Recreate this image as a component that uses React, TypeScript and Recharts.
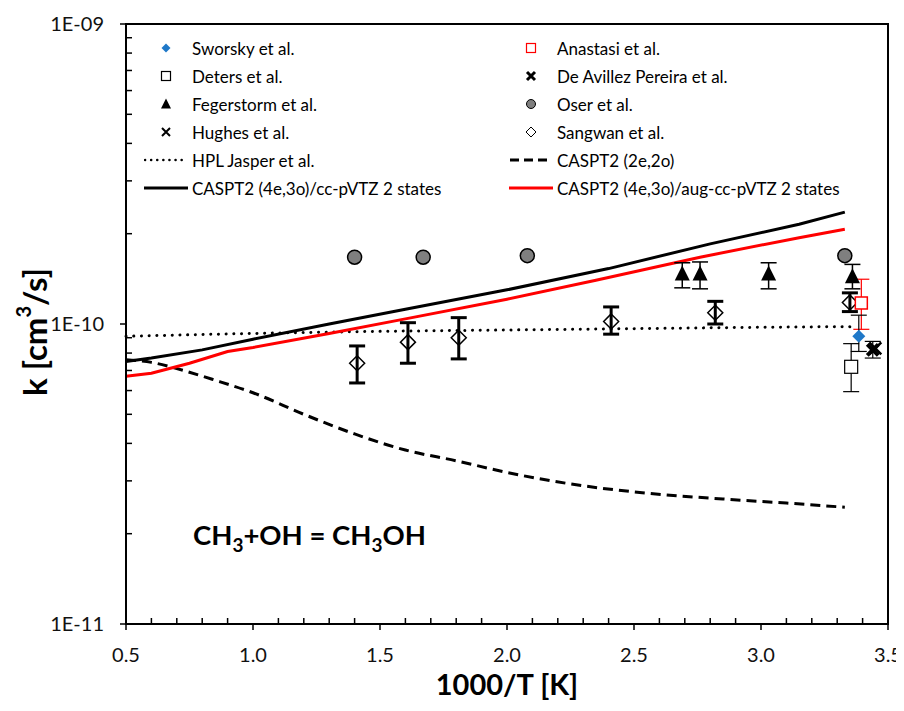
import React from "react";
import {
  ComposedChart,
  XAxis,
  YAxis,
  Scatter,
  Line,
  ErrorBar,
  ReferenceArea,
  Label,
} from "recharts";

const FONT = "Lato, 'Open Sans', sans-serif";

// tick labels
const xTicks = [0.5, 1.0, 1.5, 2.0, 2.5, 3.0, 3.5];
const xMinorTicks = [
  0.6, 0.7, 0.8, 0.9, 1.1, 1.2, 1.3, 1.4, 1.6, 1.7, 1.8, 1.9, 2.1, 2.2, 2.3, 2.4,
  2.6, 2.7, 2.8, 2.9, 3.1, 3.2, 3.3, 3.4,
];
const yTicks = [1e-11, 1e-10, 1e-9];
const yMinorTicks = [
  2e-11, 3e-11, 4e-11, 5e-11, 6e-11, 7e-11, 8e-11, 9e-11,
  2e-10, 3e-10, 4e-10, 5e-10, 6e-10, 7e-10, 8e-10, 9e-10,
];

// experiments (x = 1000/T, k in cm3/s, lo/hi = error bar ends)
const sworskyX = [3.385];
const sworskyK = [9.1e-11];
const sworskyLo = [8.1e-11];
const sworskyHi = [1.07e-10];

const anastasiX = [3.395];
const anastasiK = [1.175e-10];
const anastasiLo = [9.6e-11];
const anastasiHi = [1.41e-10];

const detersX = [3.355];
const detersK = [7.2e-11];
const detersLo = [5.95e-11];
const detersHi = [8.6e-11];

const deAvillezX = [3.44];
const deAvillezK = [8.2e-11];
const deAvillezLo = [7.7e-11];
const deAvillezHi = [8.75e-11];

const fegerstromX = [2.69, 2.76, 3.03, 3.36];
const fegerstromK = [1.47e-10, 1.47e-10, 1.47e-10, 1.44e-10];
const fegerstromLo = [1.32e-10, 1.31e-10, 1.31e-10, 1.31e-10];
const fegerstromHi = [1.6e-10, 1.61e-10, 1.6e-10, 1.58e-10];

const oserX = [1.4, 1.67, 2.08, 3.33];
const oserK = [1.67e-10, 1.67e-10, 1.69e-10, 1.69e-10];

const hughesX = [3.45];
const hughesK = [8.3e-11];

const sangwanX = [1.41, 1.61, 1.81, 2.41, 2.82, 3.35];
const sangwanK = [7.4e-11, 8.7e-11, 9.0e-11, 1.02e-10, 1.09e-10, 1.18e-10];
const sangwanLo = [6.36e-11, 7.4e-11, 7.65e-11, 9.25e-11, 1.0e-10, 1.1e-10];
const sangwanHi = [8.45e-11, 1.01e-10, 1.05e-10, 1.14e-10, 1.19e-10, 1.27e-10];

// theory
const hplX = [0.5, 1.0, 1.5, 2.0, 2.5, 3.0, 3.35];
const hplK = [9.1e-11, 9.3e-11, 9.45e-11, 9.55e-11, 9.65e-11, 9.75e-11, 9.8e-11];

const cas2X = [0.5, 0.6, 0.7, 0.85, 1.0, 1.2, 1.4, 1.6, 1.8, 2.0, 2.25, 2.55, 2.85, 3.1, 3.33];
const cas2K = [
  7.6e-11, 7.45e-11, 7.1e-11, 6.5e-11, 5.9e-11, 5.0e-11, 4.3e-11, 3.8e-11,
  3.5e-11, 3.2e-11, 2.93e-11, 2.73e-11, 2.61e-11, 2.53e-11, 2.45e-11,
];

const ccX = [0.5, 0.6, 0.8, 1.0, 1.3, 1.6, 2.0, 2.4, 2.8, 3.15, 3.33];
const ccK = [7.5e-11, 7.7e-11, 8.2e-11, 8.9e-11, 1.0e-10, 1.12e-10, 1.3e-10, 1.53e-10, 1.85e-10, 2.15e-10, 2.36e-10];

const augX = [0.5, 0.6, 0.75, 0.9, 1.0, 1.3, 1.6, 2.0, 2.35, 2.76, 3.15, 3.33];
const augK = [6.7e-11, 6.85e-11, 7.4e-11, 8.1e-11, 8.35e-11, 9.3e-11, 1.04e-10, 1.21e-10, 1.4e-10, 1.67e-10, 1.94e-10, 2.07e-10];

const pts = (xs: number[], ks: number[], lo?: number[], hi?: number[]) =>
  xs.map((x, i) => ({
    x,
    k: ks[i],
    err: lo && hi ? [ks[i] - lo[i], hi[i] - ks[i]] : undefined,
  }));

const line = (xs: number[], ks: number[]) => xs.map((x, i) => ({ x, k: ks[i] }));

// tick marks sit on the bottom of the domain
const onAxis = (xs: number[]) => xs.map((x) => ({ x, k: 1e-11 }));

const diamond = (cx: number, cy: number, r: number) =>
  `M${cx},${cy - r}L${cx + r},${cy}L${cx},${cy + r}L${cx - r},${cy}Z`;

const triangle = (cx: number, cy: number, r: number) =>
  `M${cx},${cy - r * 1.1}L${cx + r},${cy + r * 0.9}L${cx - r},${cy + r * 0.9}Z`;

const cross = (cx: number, cy: number, r: number) =>
  `M${cx - r},${cy - r}L${cx + r},${cy + r}M${cx + r},${cy - r}L${cx - r},${cy + r}`;

const SworskyShape = (p: any) => <path d={diamond(p.cx, p.cy, 6.5)} fill="#1F78C8" />;
const AnastasiShape = (p: any) => (
  <rect x={p.cx - 6} y={p.cy - 6} width={12} height={12} fill="#fff" stroke="#FF0000" strokeWidth={1.5} />
);
const DetersShape = (p: any) => (
  <rect x={p.cx - 6.5} y={p.cy - 6.5} width={13} height={13} fill="#fff" stroke="#000" strokeWidth={1.2} />
);
const DeAvillezShape = (p: any) => <path d={cross(p.cx, p.cy, 5.5)} stroke="#000" strokeWidth={4} />;
const FegerstromShape = (p: any) => <path d={triangle(p.cx, p.cy, 7.5)} fill="#000" />;
const OserShape = (p: any) => <circle cx={p.cx} cy={p.cy} r={7} fill="#7F7F7F" stroke="#000" strokeWidth={1.5} />;
const HughesShape = (p: any) => <path d={cross(p.cx, p.cy, 6)} stroke="#000" strokeWidth={2.5} />;
const SangwanShape = (p: any) => (
  <path d={diamond(p.cx, p.cy, 7.5)} fill="none" stroke="#000" strokeWidth={1.5} />
);
const MajorTickShape = (p: any) => (
  <line x1={p.cx} x2={p.cx} y1={p.cy} y2={p.cy + 6} stroke="#000" strokeWidth={1.5} />
);
const MinorTickShape = (p: any) => (
  <line x1={p.cx} x2={p.cx} y1={p.cy} y2={p.cy - 6} stroke="#000" strokeWidth={1.5} />
);

const legendMarks: { label: string; icon: React.ReactNode }[] = [
  { label: "Sworsky et al.", icon: <path d={diamond(22, 10, 4.5)} fill="#1F78C8" /> },
  { label: "Anastasi et al.", icon: <rect x={17.5} y={5.5} width={9} height={9} fill="#fff" stroke="#FF0000" strokeWidth={1.2} /> },
  { label: "Deters et al.", icon: <rect x={17.5} y={5.5} width={9} height={9} fill="#fff" stroke="#000" strokeWidth={1.2} /> },
  { label: "De Avillez Pereira et al.", icon: <path d={cross(22, 10, 4)} stroke="#000" strokeWidth={3} /> },
  { label: "Fegerstorm et al.", icon: <path d={triangle(22, 10, 5)} fill="#000" /> },
  { label: "Oser et al.", icon: <circle cx={22} cy={10} r={4.5} fill="#7F7F7F" stroke="#000" strokeWidth={1} /> },
  { label: "Hughes et al.", icon: <path d={cross(22, 10, 4)} stroke="#000" strokeWidth={2} /> },
  { label: "Sangwan et al.", icon: <path d={diamond(22, 10, 5)} fill="none" stroke="#000" strokeWidth={1} /> },
  { label: "HPL Jasper et al.", icon: <line x1={1} y1={10} x2={43} y2={10} stroke="#000" strokeWidth={2.5} strokeDasharray="0.1 6" strokeLinecap="round" /> },
  { label: "CASPT2 (2e,2o)", icon: <line x1={1} y1={10} x2={43} y2={10} stroke="#000" strokeWidth={3} strokeDasharray="9 5" /> },
  { label: "CASPT2 (4e,3o)/cc-pVTZ 2 states", icon: <line x1={0} y1={10} x2={44} y2={10} stroke="#000" strokeWidth={3} /> },
  { label: "CASPT2 (4e,3o)/aug-cc-pVTZ 2 states", icon: <line x1={0} y1={10} x2={44} y2={10} stroke="#FF0000" strokeWidth={3} /> },
];

const YTitle = (props: any) => {
  const vb = props.viewBox;
  const cx = vb.x - 12;
  const cy = vb.y + vb.height / 2 + 8;
  return (
    <text
      x={cx}
      y={cy}
      transform={`rotate(-90 ${cx} ${cy})`}
      textAnchor="middle"
      dominantBaseline="central"
      style={{ fontFamily: FONT, fontWeight: 700, fontSize: 33, fill: "#000" }}
    >
      k [cm<tspan dy={-11} fontSize={20}>3</tspan>
      <tspan dy={11}>/s]</tspan>
    </text>
  );
};

const Y_GAP = 20;
const TICK = 6;
const labelStyle = { fontFamily: FONT, fontSize: 20, fill: "#111" };

const XTick = (p: any) => (
  <text x={p.x} y={p.y} dy="0.71em" textAnchor="middle" style={labelStyle}>
    {Number(p.payload.value).toFixed(1)}
  </text>
);

const YTick = (p: any) => {
  const v = p.payload.value;
  const major = yTicks.some((t) => Math.abs(t - v) / t < 1e-6);
  const ax = p.x + Y_GAP;
  return (
    <g>
      <line x1={ax} x2={major ? ax - TICK : ax + TICK} y1={p.y} y2={p.y} stroke="#000" strokeWidth={1.5} />
      {major && (
        <text x={p.x - 2} y={p.y} dy="0.355em" textAnchor="end" style={labelStyle}>
          {`1E-${String(-Math.round(Math.log10(v))).padStart(2, "0")}`}
        </text>
      )}
    </g>
  );
};

const App = () => {
  return (
    <div style={{ position: "relative", width: 888, height: 694 }}>
      <style>{`.recharts-surface { overflow: visible; }`}</style>
      <ComposedChart width={888} height={694} margin={{ top: 16, right: 8, bottom: 0, left: 38 }}>
        <XAxis
          dataKey="x"
          type="number"
          domain={[0.5, 3.5]}
          ticks={xTicks}
          interval={0}
          height={78}
          tick={<XTick />}
          tickSize={0}
          tickMargin={24}
          tickLine={false}
          axisLine={{ stroke: "#000", strokeWidth: 2 }}
        >
          <Label
            value="1000/T [K]"
            position="insideBottom"
            offset={7}
            style={{ fontFamily: FONT, fontWeight: 700, fontSize: 29, fill: "#000" }}
          />
        </XAxis>
        <YAxis
          dataKey="k"
          type="number"
          scale="log"
          domain={[1e-11, 1e-9]}
          ticks={[...yTicks, ...yMinorTicks]}
          interval={0}
          width={80}
          tick={<YTick />}
          tickSize={0}
          tickMargin={Y_GAP}
          tickLine={false}
          axisLine={{ stroke: "#000", strokeWidth: 2 }}
        >
          <Label content={<YTitle />} />
        </YAxis>

        <Scatter data={onAxis(xTicks)} dataKey="k" shape={MajorTickShape} isAnimationActive={false} />
        <Scatter data={onAxis(xMinorTicks)} dataKey="k" shape={MinorTickShape} isAnimationActive={false} />

        <Line data={line(hplX, hplK)} dataKey="k" type="monotone" dot={false} stroke="#000" strokeWidth={3}
          strokeDasharray="0.1 7.6" strokeLinecap="round" isAnimationActive={false} />
        <Line data={line(cas2X, cas2K)} dataKey="k" type="monotone" dot={false} stroke="#000" strokeWidth={3}
          strokeDasharray="10 6" isAnimationActive={false} />
        <Line data={line(ccX, ccK)} dataKey="k" type="linear" dot={false} stroke="#000" strokeWidth={3}
          isAnimationActive={false} />
        <Line data={line(augX, augK)} dataKey="k" type="linear" dot={false} stroke="#FF0000" strokeWidth={3}
          isAnimationActive={false} />

        <Scatter data={pts(oserX, oserK)} dataKey="k" shape={OserShape} isAnimationActive={false} />
        <Scatter data={pts(fegerstromX, fegerstromK, fegerstromLo, fegerstromHi)} dataKey="k" shape={FegerstromShape} isAnimationActive={false}>
          <ErrorBar dataKey="err" direction="y" width={8} stroke="#000" strokeWidth={1.5} />
        </Scatter>
        <Scatter data={pts(sangwanX, sangwanK, sangwanLo, sangwanHi)} dataKey="k" shape={SangwanShape} isAnimationActive={false}>
          <ErrorBar dataKey="err" direction="y" width={8} stroke="#000" strokeWidth={3} />
        </Scatter>
        <Scatter data={pts(detersX, detersK, detersLo, detersHi)} dataKey="k" shape={DetersShape} isAnimationActive={false}>
          <ErrorBar dataKey="err" direction="y" width={8} stroke="#000" strokeWidth={1.2} />
        </Scatter>
        <Scatter data={pts(anastasiX, anastasiK, anastasiLo, anastasiHi)} dataKey="k" shape={AnastasiShape} isAnimationActive={false}>
          <ErrorBar dataKey="err" direction="y" width={8} stroke="#FF0000" strokeWidth={1.2} />
        </Scatter>
        <Scatter data={pts(sworskyX, sworskyK, sworskyLo, sworskyHi)} dataKey="k" shape={SworskyShape} isAnimationActive={false}>
          <ErrorBar dataKey="err" direction="y" width={8} stroke="#000" strokeWidth={1.2} />
        </Scatter>
        <Scatter data={pts(deAvillezX, deAvillezK, deAvillezLo, deAvillezHi)} dataKey="k" shape={DeAvillezShape} isAnimationActive={false}>
          <ErrorBar dataKey="err" direction="y" width={8} stroke="#000" strokeWidth={1.2} />
        </Scatter>
        <Scatter data={pts(hughesX, hughesK)} dataKey="k" shape={HughesShape} isAnimationActive={false} />

        <ReferenceArea x1={0.5} x2={3.5} y1={1e-11} y2={1e-9} fill="none" stroke="#000" strokeWidth={2} />
      </ComposedChart>

      <div
        style={{
          position: "absolute",
          left: 136,
          top: 26,
          display: "grid",
          gridTemplateColumns: "365px 340px",
          gridAutoRows: "28px",
          fontFamily: FONT,
          fontSize: 17,
          color: "#000",
        }}
      >
        {legendMarks.map((m) => (
          <div key={m.label} style={{ display: "flex", alignItems: "center", height: 28 }}>
            <svg width={44} height={20} style={{ flex: "none", marginRight: 4 }}>
              {m.icon}
            </svg>
            <span style={{ whiteSpace: "nowrap" }}>{m.label}</span>
          </div>
        ))}
      </div>

      <div
        style={{
          position: "absolute",
          left: 185,
          top: 510,
          fontFamily: FONT,
          fontWeight: 700,
          fontSize: 27.5,
          color: "#000",
          whiteSpace: "nowrap",
        }}
      >
        CH<sub style={{ fontSize: 19 }}>3</sub>+OH = CH<sub style={{ fontSize: 19 }}>3</sub>OH
      </div>
    </div>
  );
};

export default App;
